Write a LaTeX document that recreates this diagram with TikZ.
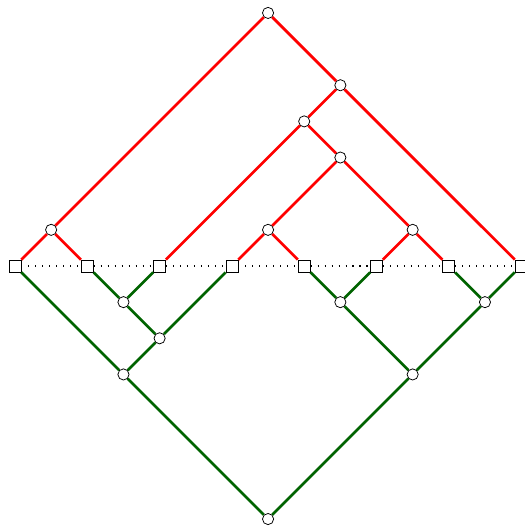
\documentclass[tikz,border=0pt]{standalone}
\begin{document}
\begin{tikzpicture}[
  leaf/.style={draw=black, fill=white, line width=0.6pt, rectangle, minimum size=9.4pt, inner sep=0pt},
  inner/.style={draw=black, fill=white, line width=0.6pt, circle, minimum size=8.8pt, inner sep=0pt},
  redge/.style={red, line width=2.1pt},
  gedge/.style={green!39!black, line width=2.1pt},
]
\useasboundingbox (-0.415,-7.22) rectangle (14.08,7.358);
% leaves
\foreach \i in {0,...,7} { \node[leaf] (p\i) at (2*\i,0) {}; }
% red tree nodes
\node[inner] (r1) at (7,7) {};
\node[inner] (r2) at (9,5) {};
\node[inner] (r3) at (8,4) {};
\node[inner] (r4) at (9,3) {};
\node[inner] (r5) at (1,1) {};
\node[inner] (r6) at (7,1) {};
\node[inner] (r7) at (11,1) {};
% green tree nodes
\node[inner] (g1) at (7,-7) {};
\node[inner] (g2) at (3,-3) {};
\node[inner] (g3) at (11,-3) {};
\node[inner] (g4) at (4,-2) {};
\node[inner] (g5) at (3,-1) {};
\node[inner] (g6) at (9,-1) {};
\node[inner] (g7) at (13,-1) {};
% dotted baseline
\foreach \i [evaluate=\i as \j using int(\i+1)] in {0,...,6} {
  \draw[line width=0.9pt, dash pattern=on 0.9pt off 4.6pt] (p\i) -- (p\j);
}
% red edges
\draw[redge] (r1) -- (r5);
\draw[redge] (r1) -- (r2);
\draw[redge] (r2) -- (p7);
\draw[redge] (r2) -- (r3);
\draw[redge] (r3) -- (p2);
\draw[redge] (r3) -- (r4);
\draw[redge] (r4) -- (r6);
\draw[redge] (r4) -- (r7);
\draw[redge] (r5) -- (p0);
\draw[redge] (r5) -- (p1);
\draw[redge] (r6) -- (p3);
\draw[redge] (r6) -- (p4);
\draw[redge] (r7) -- (p5);
\draw[redge] (r7) -- (p6);
% green edges
\draw[gedge] (g1) -- (g2);
\draw[gedge] (g1) -- (g3);
\draw[gedge] (g2) -- (p0);
\draw[gedge] (g2) -- (g4);
\draw[gedge] (g4) -- (g5);
\draw[gedge] (g4) -- (p3);
\draw[gedge] (g5) -- (p1);
\draw[gedge] (g5) -- (p2);
\draw[gedge] (g3) -- (g6);
\draw[gedge] (g3) -- (g7);
\draw[gedge] (g6) -- (p4);
\draw[gedge] (g6) -- (p5);
\draw[gedge] (g7) -- (p6);
\draw[gedge] (g7) -- (p7);
\end{tikzpicture}
\end{document}
